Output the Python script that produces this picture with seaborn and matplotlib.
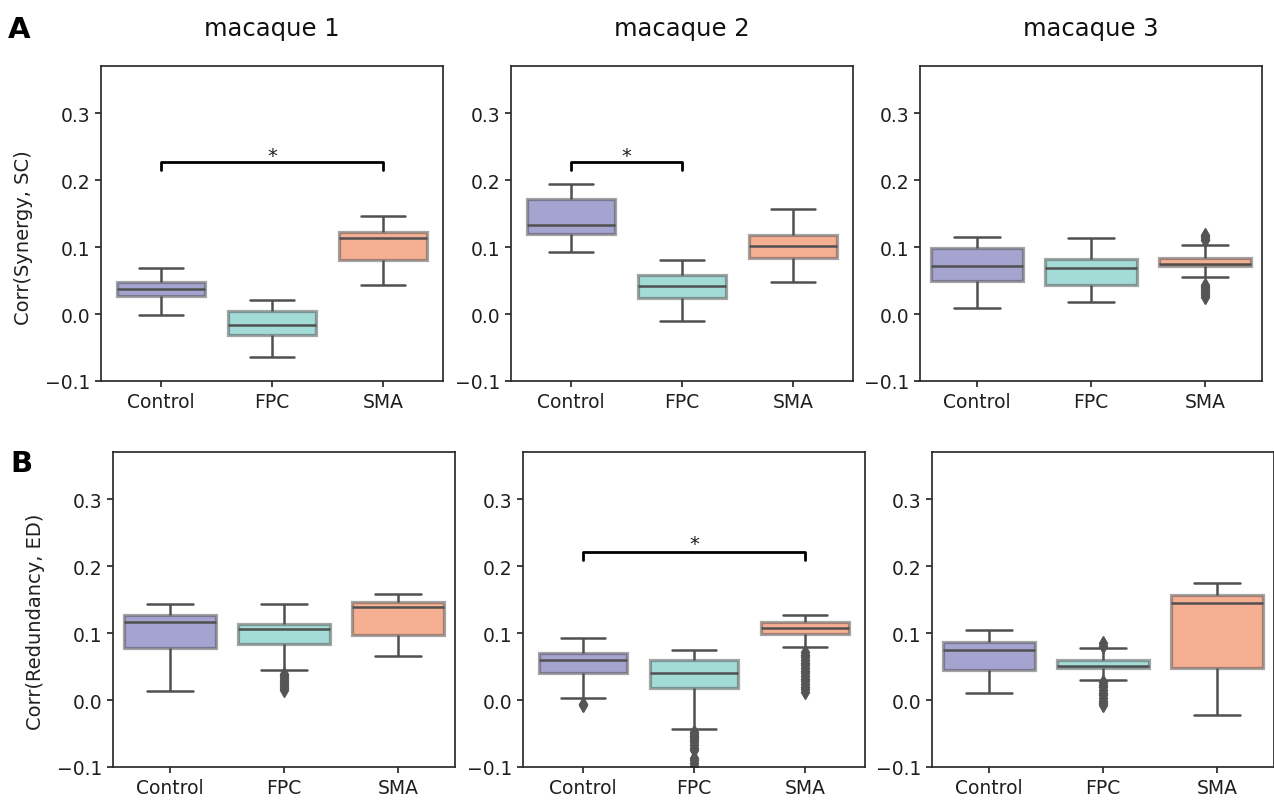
import matplotlib
matplotlib.use("Agg")
import matplotlib.pyplot as plt
import numpy as np
import pandas as pd
import seaborn as sns

# ---------------- data ----------------
regions = ["Control", "FPC", "SMA"]
macaques = ["macaque 1", "macaque 2", "macaque 3"]
row_labels = ["Corr(Synergy, SC)", "Corr(Redundancy, ED)"]
panel_letters = ["A", "B"]
yticks = [-0.1, 0.0, 0.1, 0.2, 0.3]

# box statistics per region: [lower whisker, Q1, median, Q3, upper whisker]
syn_m1 = [[-0.0015, 0.0275, 0.0375, 0.0485, 0.0685],
          [-0.0635, -0.0315, -0.0165, 0.0050, 0.0205],
          [0.0435, 0.0815, 0.1135, 0.1225, 0.1465]]
syn_m2 = [[0.0935, 0.1200, 0.1340, 0.1725, 0.1940],
          [-0.0100, 0.0235, 0.0415, 0.0590, 0.0815],
          [0.0475, 0.0835, 0.1025, 0.1185, 0.1565]]
syn_m3 = [[0.0095, 0.0495, 0.0725, 0.0985, 0.1160],
          [0.0175, 0.0440, 0.0695, 0.0825, 0.1135],
          [0.0548, 0.0715, 0.0745, 0.0845, 0.1030]]

red_m1 = [[0.0139, 0.0780, 0.1166, 0.1275, 0.1440],
          [0.0457, 0.0844, 0.1067, 0.1136, 0.1440],
          [0.0660, 0.0978, 0.1385, 0.1464, 0.1590]]
red_m2 = [[0.0025, 0.0407, 0.0596, 0.0705, 0.0928],
          [-0.0430, 0.0185, 0.0412, 0.0596, 0.0744],
          [0.0799, 0.0993, 0.1077, 0.1166, 0.1275]]
red_m3 = [[0.0109, 0.0457, 0.0744, 0.0868, 0.1050],
          [0.0297, 0.0475, 0.0515, 0.0600, 0.0777],
          [-0.0223, 0.0481, 0.1450, 0.1578, 0.1757]]

# outliers (fliers) per region
syn_out_m1 = [[], [], []]
syn_out_m2 = [[], [], []]
syn_out_m3 = [[], [],
              [0.111, 0.114, 0.117, 0.119,
               0.043, 0.040, 0.037, 0.034, 0.031, 0.028, 0.025]]

red_out_m1 = [[],
              [0.039, 0.036, 0.033, 0.030, 0.027, 0.024, 0.021, 0.018, 0.015],
              []]
red_out_m2 = [[-0.0055, -0.0075],
              [-0.047, -0.050, -0.053, -0.056, -0.059, -0.063, -0.067,
               -0.071, -0.075, -0.086, -0.090, -0.094, -0.098],
              [0.0715, 0.068, 0.064, 0.060, 0.056, 0.052, 0.048, 0.044,
               0.040, 0.036, 0.032, 0.028, 0.024, 0.020, 0.016, 0.012]]
red_out_m3 = [[],
              [0.081, 0.085,
               0.027, 0.023, 0.019, 0.015, 0.011, 0.007, 0.003, -0.001, -0.004, -0.007],
              []]

# significance brackets
sig_row = [0, 0, 1]
sig_macaque = [0, 1, 1]
sig_left = ["Control", "Control", "Control"]
sig_right = ["SMA", "FPC", "SMA"]
sig_y = [0.2275, 0.2275, 0.221]
sig_star_y = [0.2295, 0.2295, 0.2265]
sig_text = ["*", "*", "*"]

colors = ["#a5a3d0", "#a3dbd7", "#f5b093"]

# ---------------- build long-form samples ----------------
stats_rows = [[syn_m1, syn_m2, syn_m3], [red_m1, red_m2, red_m3]]
out_rows = [[syn_out_m1, syn_out_m2, syn_out_m3], [red_out_m1, red_out_m2, red_out_m3]]
REP = 40
records = []
for r in range(2):
    for m in range(3):
        for g, reg in enumerate(regions):
            lo, q1, med, q3, hi = stats_rows[r][m][g]
            vals = list(out_rows[r][m][g]) + [lo, hi] + [q1] * REP + [med] * REP + [q3] * REP
            for v in vals:
                records.append((r, m, reg, v))
df = pd.DataFrame(records, columns=["row", "macaque", "region", "value"])

# ---------------- plotting ----------------
sns.set_style("ticks")
plt.rcParams["font.family"] = ["DejaVu Sans"]

W, H = 1274, 803
fig = plt.figure(figsize=(W / 100, H / 100), dpi=100)
ax_left_px = [[101, 511, 920], [113, 523, 932]]
ax_top_px = [67, 453]
aw, ah = 342, 315
palette = dict(zip(regions, colors))
axes = {}

for r in range(2):
    for m in range(3):
        x0 = ax_left_px[r][m]
        y0 = ax_top_px[r]
        ax = fig.add_axes([x0 / W, 1 - (y0 + ah) / H, aw / W, ah / H])
        axes[(r, m)] = ax
        sub = df[(df["row"] == r) & (df["macaque"] == m)]
        sns.boxplot(data=sub, x="region", y="value", hue="region", order=regions,
                    hue_order=regions, palette=palette, legend=False, saturation=1,
                    width=0.8, linewidth=1.8, linecolor="#505050", fliersize=7,
                    ax=ax)
        for p in ax.patches:
            p.set_edgecolor((0.3, 0.3, 0.3, 0.5))
            p.set_linewidth(2.3)
        for ln in ax.lines:
            if ln.get_marker() not in ("None", None, "", " "):
                ln.set_marker("d")
                ln.set_markerfacecolor("#555555")
                ln.set_markeredgecolor("#555555")
                ln.set_markersize(7)
        ax.set_ylim(-0.1, 0.371)
        ax.set_yticks(yticks)
        ax.set_xlabel("")
        ax.tick_params(labelsize=13.5, length=4.5, width=1.2, colors="#1f1f1f")
        for s in ax.spines.values():
            s.set_linewidth(1.25)
            s.set_color("#2b2b2b")
        if m == 0:
            ax.set_ylabel(row_labels[r], fontsize=14, va="center", color="#1f1f1f")
            ax.yaxis.set_label_coords(-0.228, 0.459 if r == 0 else 0.464)
        else:
            ax.set_ylabel("")
        if r == 0:
            ax.set_title(macaques[m], fontsize=17.5, pad=22, color="#111111")

for k in range(len(sig_row)):
    ax = axes[(sig_row[k], sig_macaque[k])]
    i = regions.index(sig_left[k])
    j = regions.index(sig_right[k])
    y = sig_y[k]
    ax.plot([i, i, j, j], [y - 0.012, y, y, y - 0.012], color="black", lw=2)
    ax.text((i + j) / 2, sig_star_y[k], sig_text[k], ha="center", va="baseline",
            fontsize=14, color="#1f1f1f")

fig.text(8 / W, 1 - 38 / H, panel_letters[0], fontsize=21, fontweight="bold",
         ha="left", va="baseline", color="black")
fig.text(10 / W, 1 - 472 / H, panel_letters[1], fontsize=21, fontweight="bold",
         ha="left", va="baseline", color="black")

fig.savefig("out.png", dpi=100)
